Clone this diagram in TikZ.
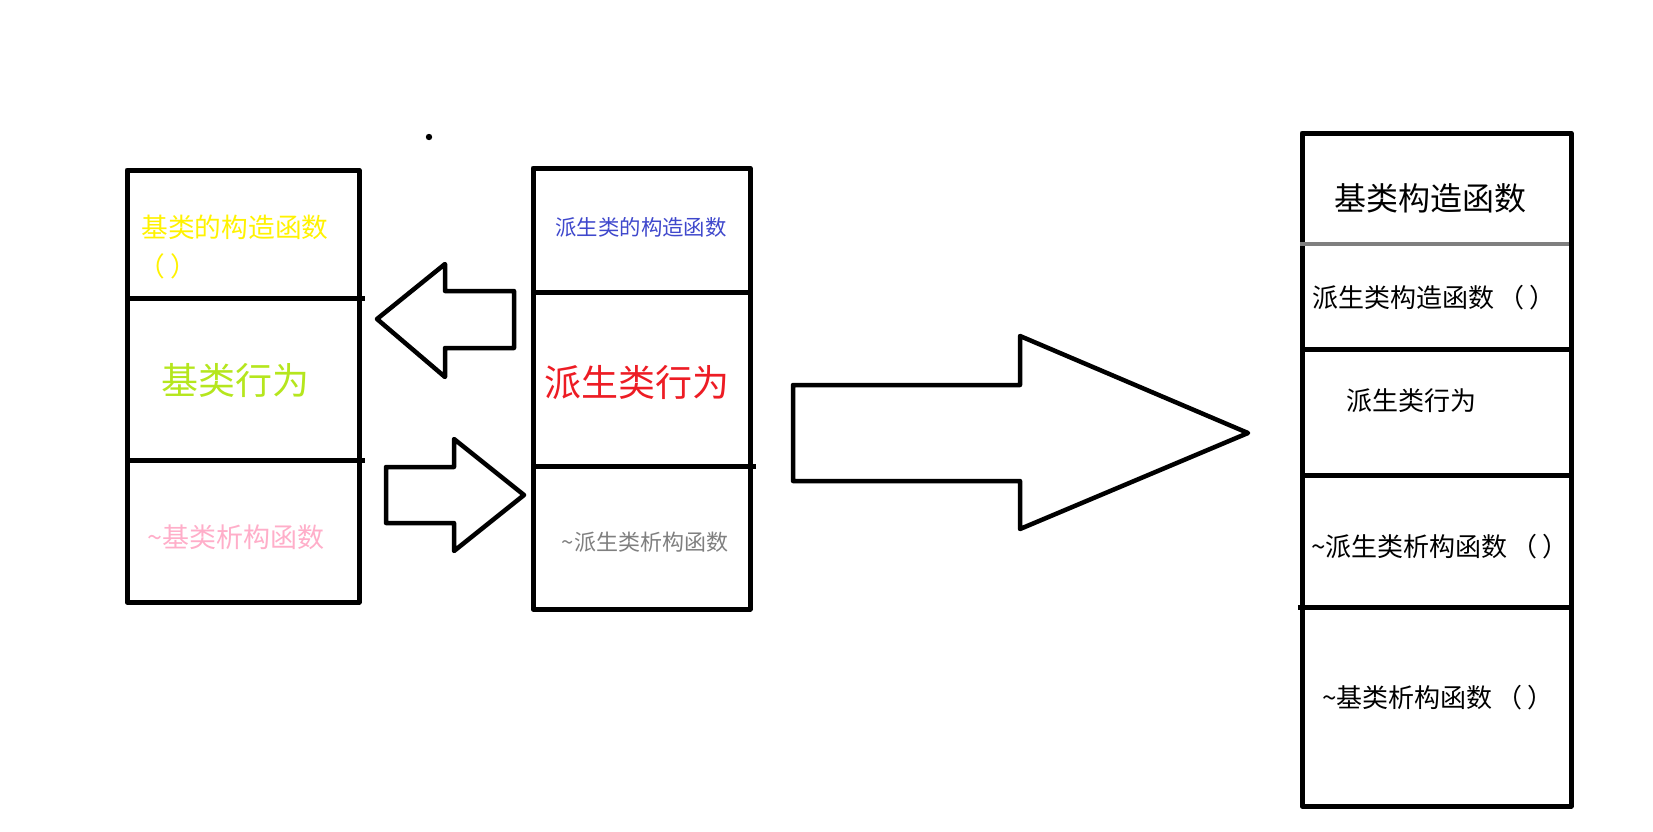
\documentclass[tikz,border=0pt]{standalone}
\usepackage{fontspec}
\setmainfont{Noto Sans CJK SC}
\definecolor{pyellow}{HTML}{FFF200}
\definecolor{plime}{HTML}{B5E61D}
\definecolor{ppink}{HTML}{FFAEC9}
\definecolor{pindigo}{HTML}{3F48CC}
\definecolor{pred}{HTML}{ED1C24}
\definecolor{pgray}{HTML}{7F7F7F}
\newcommand{\fsz}[1]{\fontsize{#1pt}{#1pt}\selectfont}
\newcommand{\parens}{\hspace{0.15em}（\hspace{0.2em}）}
\begin{document}
\begin{tikzpicture}[x=1pt,y=-1pt,line join=round,
  box/.style={line width=5pt},
  blockarrow/.style={line width=4.5pt},
  txt/.style={inner sep=0pt}]
\useasboundingbox (0,0) rectangle (1653,831);
% base class
\draw[box] (127,170) rectangle (359,602);
\draw[box] (127,298) -- (365,298);
\draw[box] (127,460) -- (365,460);
\node[txt,text=pyellow] (baseCtor) at (235,227) {\fsz{26.7}基类的构造函数};
\node[txt,text=pyellow] (baseParen) at (168,266) {\fsz{26.7}（\hspace{0.2em}）};
\node[txt,text=plime] (baseAct) at (235,380) {\fsz{37}基类行为};
\node[txt,text=ppink] (baseDtor) at (236,537) {\fsz{27}\textasciitilde 基类析构函数};
% derived class
\draw[box] (533,168) rectangle (750,609);
\draw[box] (533,292) -- (750,292);
\draw[box] (533,466) -- (756,466);
\node[txt,text=pindigo] (derCtor) at (641,227) {\fsz{21.4}派生类的构造函数};
\node[txt,text=pred] (derAct) at (637,383) {\fsz{37}派生类行为};
\node[txt,text=pgray] (derDtor) at (645,542) {\fsz{22}\textasciitilde 派生类析构函数};
\fill (429,137) circle (3.2pt);
% arrows
\draw[blockarrow] (377,319) -- (445,264) -- (445,291) -- (514,291) -- (514,348)
  -- (445,348) -- (445,377) -- cycle;
\draw[blockarrow] (524,495) -- (454,439) -- (454,467) -- (386,467) -- (386,523)
  -- (454,523) -- (454,551) -- cycle;
\draw[blockarrow] (1248,433) -- (1020,336) -- (1020,385) -- (793,385) -- (793,481)
  -- (1020,481) -- (1020,529) -- cycle;
% derived object
\draw[box] (1302,133) rectangle (1571,806);
\draw[line width=4pt,pgray] (1300,244) -- (1569,244);
\draw[box] (1302,349) -- (1574,349);
\draw[box] (1302,475) -- (1574,475);
\draw[box] (1298,607) -- (1574,607);
\node[txt] (objBaseCtor) at (1430,198) {\fsz{32}基类构造函数};
\node[txt,anchor=west] (objDerCtor) at (1312,298) {\fsz{26}派生类构造函数\parens};
\node[txt] (objDerAct) at (1411,401) {\fsz{26}派生类行为};
\node[txt,anchor=west] (objDerDtor) at (1311,547) {\fsz{26}\textasciitilde 派生类析构函数\parens};
\node[txt,anchor=west] (objBaseDtor) at (1322,698) {\fsz{26}\textasciitilde 基类析构函数\parens};
\end{tikzpicture}
\end{document}
